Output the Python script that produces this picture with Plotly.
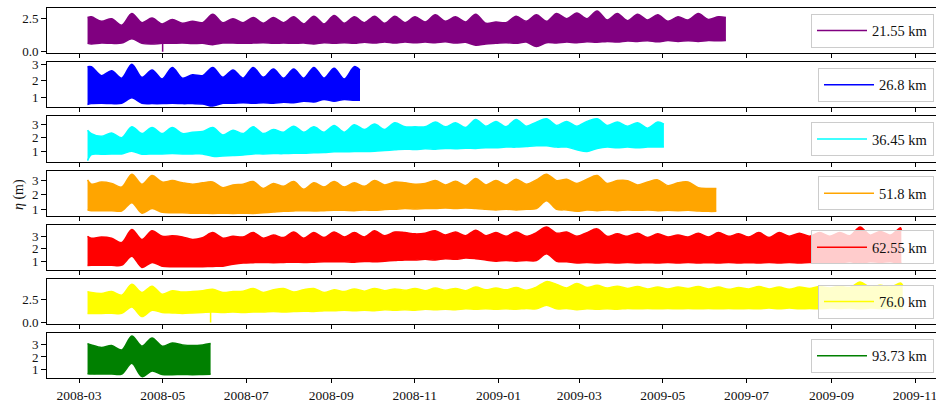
import numpy as np
import pandas as pd
import plotly.graph_objects as go
from plotly.subplots import make_subplots

# ---------------- data ----------------
labels = ["21.55 km", "26.8 km", "36.45 km", "51.8 km", "62.55 km", "76.0 km", "93.73 km"]
colors = ["#800080", "#0000ff", "#00ffff", "#ffa500", "#ff0000", "#ffff00", "#008000"]

start_date = "2008-03-07 05:00"
end_dates = ["2009-06-16", "2008-09-22", "2009-05-01 18:00", "2009-06-09",
             "2009-10-22", "2009-10-23", "2008-06-05"]
# envelope sampling times (spring / neap alternation, ~7.4 days)
grid = pd.Timestamp("2008-03-10") + pd.to_timedelta(np.arange(81) * 7.38, unit="D")

upper_2155 = [2.6, 2.65, 2.3, 2.5, 2.0, 2.9, 2.2, 2.55, 2.1, 2.45, 2.15, 2.3, 2.2, 2.85, 2.2, 2.5,
              2.2, 2.6, 2.15, 2.6, 2.2, 2.65, 2.1, 2.7, 2.1, 2.75, 2.15, 2.65, 2.2, 2.7, 2.15, 2.7,
              2.2, 2.65, 2.25, 2.8, 2.3, 2.65, 2.25, 2.85, 2.15, 2.25, 2.2, 2.7, 2.3, 2.8, 2.3, 2.9,
              2.5, 2.95, 2.5, 3.1, 2.4, 2.9, 2.35, 2.85, 2.4, 2.8, 2.3, 2.65, 2.4, 2.9, 2.45, 2.65, 2.6]
lower_2155 = [0.6, 0.55, 0.62, 0.6, 0.62, 0.95, 0.6, 0.55, 0.6, 0.6, 0.62, 0.58, 0.6, 0.5, 0.62, 0.62,
              0.6, 0.62, 0.65, 0.6, 0.62, 0.6, 0.62, 0.55, 0.65, 0.6, 0.65, 0.6, 0.68, 0.62, 0.7, 0.62,
              0.7, 0.65, 0.7, 0.65, 0.72, 0.62, 0.68, 0.45, 0.55, 0.6, 0.65, 0.6, 0.7, 0.35, 0.65, 0.62,
              0.7, 0.65, 0.72, 0.68, 0.75, 0.7, 0.78, 0.75, 0.8, 0.72, 0.82, 0.75, 0.8, 0.75, 0.82, 0.8, 0.82]

upper_268 = [2.85, 2.85, 2.3, 2.6, 2.15, 3.0, 2.2, 2.65, 2.1, 2.8, 2.15, 2.35, 2.3, 2.8, 2.2, 2.65,
             2.15, 2.8, 2.2, 2.7, 2.15, 2.7, 2.15, 2.8, 2.15, 2.75, 2.1, 2.85, 2.65]
lower_268 = [0.55, 0.6, 0.62, 0.6, 0.62, 0.95, 0.62, 0.6, 0.6, 0.62, 0.6, 0.6, 0.58, 0.45, 0.62, 0.62,
             0.65, 0.62, 0.65, 0.62, 0.68, 0.65, 0.75, 0.7, 0.85, 0.75, 0.85, 0.8, 0.8]

upper_3645 = [2.55, 2.3, 2.1, 2.35, 2.0, 2.8, 2.3, 2.75, 2.3, 2.75, 2.3, 2.4, 2.45, 2.75, 2.2, 2.55,
              2.3, 2.8, 2.3, 2.6, 2.4, 2.85, 2.4, 2.8, 2.4, 2.9, 2.4, 2.95, 2.6, 3.0, 2.6, 3.1,
              2.8, 2.8, 2.8, 3.15, 2.8, 3.1, 2.75, 3.35, 2.85, 3.2, 2.8, 3.35, 2.85, 3.15, 3.4, 2.9,
              3.2, 2.85, 3.2, 3.4, 2.9, 3.15, 2.85, 3.1, 2.7, 3.15, 3.0]
lower_3645 = [0.3, 0.75, 0.78, 0.8, 0.8, 1.0, 0.78, 0.8, 0.8, 0.82, 0.8, 0.8, 0.8, 0.62, 0.65, 0.68,
              0.72, 0.8, 0.8, 0.82, 0.82, 0.85, 0.85, 0.88, 0.9, 0.95, 0.95, 0.98, 0.98, 1.0, 1.05, 1.1,
              1.15, 1.12, 1.18, 1.15, 1.2, 1.18, 1.22, 1.2, 1.25, 1.25, 1.3, 1.3, 1.35, 1.4, 1.4, 1.3,
              1.3, 1.1, 0.98, 1.2, 1.3, 1.25, 1.3, 1.25, 1.3, 1.3, 1.3]

upper_518 = [3.05, 2.75, 2.9, 2.8, 2.55, 3.45, 2.75, 3.35, 2.9, 3.0, 2.85, 2.75, 2.85, 2.9, 2.5, 2.7,
             2.75, 2.93, 2.45, 2.8, 2.6, 2.93, 2.4, 2.85, 2.55, 2.93, 2.55, 2.85, 2.6, 3.0, 2.7, 2.9,
             2.85, 2.75, 2.8, 3.0, 2.7, 2.95, 2.65, 3.15, 2.7, 3.0, 2.7, 3.1, 2.75, 3.05, 3.45, 3.0,
             3.1, 2.8, 3.1, 3.35, 2.8, 3.0, 3.0, 2.7, 2.9, 3.05, 2.65, 2.85, 2.9, 2.5, 2.45, 2.45]
lower_518 = [0.95, 0.9, 0.9, 0.9, 0.88, 1.45, 0.72, 1.05, 0.78, 0.75, 0.75, 0.72, 0.72, 0.7, 0.72, 0.7,
             0.72, 0.7, 0.75, 0.8, 0.85, 0.88, 0.9, 0.88, 0.9, 0.92, 0.92, 0.9, 0.95, 0.92, 0.98, 1.0,
             1.05, 1.02, 1.05, 1.05, 1.08, 1.05, 1.08, 1.05, 1.0, 0.95, 1.0, 0.95, 1.0, 1.05, 1.6, 1.0,
             0.95, 0.85, 0.95, 0.9, 0.95, 0.9, 0.95, 0.92, 0.95, 0.9, 0.92, 0.9, 0.92, 0.88, 0.85, 0.85]

upper_6255 = [3.0, 2.85, 2.95, 2.85, 2.5, 3.55, 2.75, 3.45, 3.0, 3.05, 2.95, 2.75, 2.9, 3.3, 2.85, 3.0,
              2.95, 3.3, 2.85, 3.1, 2.9, 3.35, 2.85, 3.3, 2.9, 3.35, 2.95, 3.3, 2.95, 3.45, 3.05, 3.35,
              3.3, 3.2, 3.25, 3.45, 3.1, 3.35, 3.05, 3.5, 3.05, 3.3, 3.0, 3.35, 3.0, 3.3, 3.75, 3.25,
              3.35, 3.0, 3.3, 3.6, 3.0, 3.2, 3.0, 3.25, 2.9, 3.2, 2.95, 3.1, 2.95, 3.25, 2.95, 3.3,
              3.0, 3.2, 2.95, 3.3, 2.9, 3.3, 3.0, 3.25, 3.0, 3.3, 3.0, 3.3, 3.05, 3.75, 3.1, 3.4,
              3.1, 3.7, 3.5]
lower_6255 = [0.65, 0.67, 0.68, 0.67, 0.68, 1.4, 0.5, 0.9, 0.6, 0.56, 0.56, 0.55, 0.56, 0.58, 0.6, 0.75,
              0.85, 0.88, 0.9, 0.88, 0.9, 0.92, 0.9, 0.92, 0.95, 0.95, 0.95, 0.92, 0.98, 0.95, 1.0, 1.05,
              1.1, 1.1, 1.15, 1.1, 1.2, 1.15, 1.25, 1.2, 1.1, 1.0, 1.05, 1.0, 1.05, 1.05, 1.6, 1.0,
              0.95, 0.85, 0.9, 0.85, 0.9, 0.85, 0.9, 0.85, 0.88, 0.85, 0.9, 0.85, 0.9, 0.85, 0.88, 0.85,
              0.9, 0.85, 0.88, 0.85, 0.9, 0.85, 0.9, 0.85, 0.9, 0.88, 0.92, 0.88, 0.95, 0.85, 0.95, 0.9,
              0.95, 0.85, 0.9]

upper_760 = [3.4, 3.3, 3.2, 3.4, 3.0, 4.2, 3.3, 4.0, 3.1, 3.5, 3.35, 3.4, 3.5, 3.65, 3.3, 3.4,
             3.45, 3.75, 3.3, 3.6, 3.75, 3.35, 3.6, 3.75, 3.3, 3.6, 3.4, 3.7, 3.45, 3.75, 3.5, 3.7,
             3.55, 3.75, 3.5, 3.8, 3.55, 3.75, 3.5, 3.9, 3.6, 3.8, 3.6, 3.85, 3.55, 3.9, 4.5, 4.2,
             3.8, 4.3, 3.85, 4.1, 3.8, 4.0, 3.75, 3.95, 3.7, 3.9, 3.7, 3.9, 3.75, 3.95, 3.7, 3.9,
             3.65, 3.85, 3.7, 3.95, 3.7, 3.9, 3.65, 3.9, 3.75, 3.95, 3.8, 4.0, 3.85, 4.45, 3.9, 4.1,
             3.9, 4.35, 4.1]
lower_760 = [1.0, 1.0, 1.0, 1.02, 1.0, 1.7, 0.65, 1.35, 1.1, 1.05, 1.0, 1.05, 1.1, 1.15, 1.1, 1.15,
             1.1, 1.15, 1.15, 1.2, 1.15, 1.2, 1.25, 1.2, 1.3, 1.3, 1.35, 1.3, 1.35, 1.3, 1.4, 1.35,
             1.4, 1.35, 1.45, 1.4, 1.45, 1.4, 1.5, 1.45, 1.5, 1.45, 1.5, 1.45, 1.55, 1.5, 1.9, 1.5,
             1.55, 1.4, 1.5, 1.45, 1.5, 1.45, 1.55, 1.5, 1.55, 1.5, 1.55, 1.5, 1.55, 1.5, 1.55, 1.5,
             1.55, 1.5, 1.55, 1.5, 1.6, 1.5, 1.6, 1.5, 1.55, 1.5, 1.6, 1.55, 1.6, 1.5, 1.6, 1.55,
             1.6, 1.5, 1.55]

upper_9373 = [3.05, 2.95, 2.75, 2.9, 2.55, 3.65, 2.85, 3.5, 2.85, 3.1, 2.95, 2.9, 2.95, 3.05]
lower_9373 = [0.68, 0.65, 0.65, 0.65, 0.65, 1.5, 0.45, 0.9, 0.62, 0.6, 0.62, 0.6, 0.62, 0.63]

uppers = [upper_2155, upper_268, upper_3645, upper_518, upper_6255, upper_760, upper_9373]
lowers = [lower_2155, lower_268, lower_3645, lower_518, lower_6255, lower_760, lower_9373]

# short single-sample drops
spike_panel = [0, 5]
spike_date = ["2008-05-01", "2008-06-05"]
spike_lo = [-0.05, 0.0]
spike_hi = [0.7, 1.2]

y_ranges = [[-0.16, 3.33], [0.37, 3.12], [0.23, 3.57], [0.54, 3.70],
            [0.29, 3.93], [-0.19, 4.79], [0.31, 3.87]]
y_ticks = [[0.0, 2.5], [1, 2, 3], [1, 2, 3], [1, 2, 3], [1, 2, 3], [0.0, 2.5], [1, 2, 3]]
y_ticktext = [["0.0", "2.5"], ["1", "2", "3"], ["1", "2", "3"], ["1", "2", "3"],
              ["1", "2", "3"], ["0.0", "2.5"], ["1", "2", "3"]]
x_ticks = ["2008-03-01", "2008-05-01", "2008-07-01", "2008-09-01", "2008-11-01", "2009-01-01",
           "2009-03-01", "2009-05-01", "2009-07-01", "2009-09-01", "2009-11-01"]
x_ticktext = ["2008-03", "2008-05", "2008-07", "2008-09", "2008-11", "2009-01",
              "2009-03", "2009-05", "2009-07", "2009-09", "2009-11"]

# ---------------- figure ----------------
W, H = 936, 401
ML = 47
FONT = "Liberation Serif"
fig = make_subplots(rows=7, cols=1)

x_range = ["2008-02-06 15:00", "2009-11-16 07:00"]

for i in range(7):
    U, L = uppers[i], lowers[i]
    if len(U) != len(L):
        raise ValueError(f"length mismatch panel {i}: {len(U)} vs {len(L)}")
    n = len(U)
    x = [pd.Timestamp(start_date)] + list(grid[: n - 2]) + [pd.Timestamp(end_dates[i])]
    leg = "legend" if i == 0 else f"legend{i+1}"
    fig.add_trace(go.Scatter(x=x, y=L, mode="lines", name=labels[i],
                             line=dict(color=colors[i], width=1.5, shape="spline", smoothing=0.9),
                             legend=leg, showlegend=True, hoverinfo="skip"),
                  row=i + 1, col=1)
    fig.add_trace(go.Scatter(x=x, y=U, mode="lines", fill="tonexty", fillcolor=colors[i],
                             line=dict(color=colors[i], width=1.5, shape="spline", smoothing=0.9),
                             showlegend=False, hoverinfo="skip"),
                  row=i + 1, col=1)

for j, p in enumerate(spike_panel):
    fig.add_trace(go.Scatter(x=[spike_date[j], spike_date[j]], y=[spike_lo[j], spike_hi[j]],
                             mode="lines", line=dict(color=colors[p], width=1.5),
                             showlegend=False, hoverinfo="skip"),
                  row=p + 1, col=1)

layout = dict(width=W, height=H, margin=dict(l=ML, r=0, t=0, b=0),
              paper_bgcolor="white", plot_bgcolor="white",
              font=dict(family=FONT, size=14, color="#111"), template="none")

plot_w = W - ML
for i in range(7):
    top = 8 + 54.2 * i
    bot = top + 45.2
    xa = "xaxis" if i == 0 else f"xaxis{i+1}"
    ya = "yaxis" if i == 0 else f"yaxis{i+1}"
    layout[xa] = dict(type="date", range=x_range, showgrid=False, zeroline=False,
                      showline=True, mirror=True, linecolor="#000", linewidth=1,
                      ticks="outside", ticklen=4, tickwidth=1, tickcolor="#000",
                      tickmode="array", tickvals=x_ticks, ticktext=x_ticktext,
                      ticklabeloverflow="allow",
                      showticklabels=(i == 6), tickfont=dict(family=FONT, size=13.5, color="#111"))
    layout[ya] = dict(domain=[1 - bot / H, 1 - top / H], range=y_ranges[i],
                      showgrid=False, zeroline=False, showline=True, mirror=False,
                      linecolor="#000", linewidth=1, ticks="outside", ticklen=5,
                      tickwidth=1, tickcolor="#000", tickvals=y_ticks[i],
                      ticktext=y_ticktext[i], tickfont=dict(family=FONT, size=13, color="#111"))
    leg = "legend" if i == 0 else f"legend{i+1}"
    layout[leg] = dict(x=(934 - ML) / plot_w, xanchor="right",
                       y=1 - (top + bot) / 2 / H, yanchor="middle",
                       bgcolor="rgba(255,255,255,0.8)", bordercolor="#cccccc", borderwidth=1,
                       itemwidth=50, tracegroupgap=0,
                       font=dict(family=FONT, size=14.5, color="#111"))

layout["annotations"] = [dict(text="<i>η</i> (m)", xref="paper", yref="paper",
                              x=(19 - ML) / plot_w, y=1 - 195 / H, textangle=-90,
                              showarrow=False, xanchor="center", yanchor="middle",
                              font=dict(family=FONT, size=14, color="#111"))]
fig.update_layout(**layout)
fig.write_html("out.html")
